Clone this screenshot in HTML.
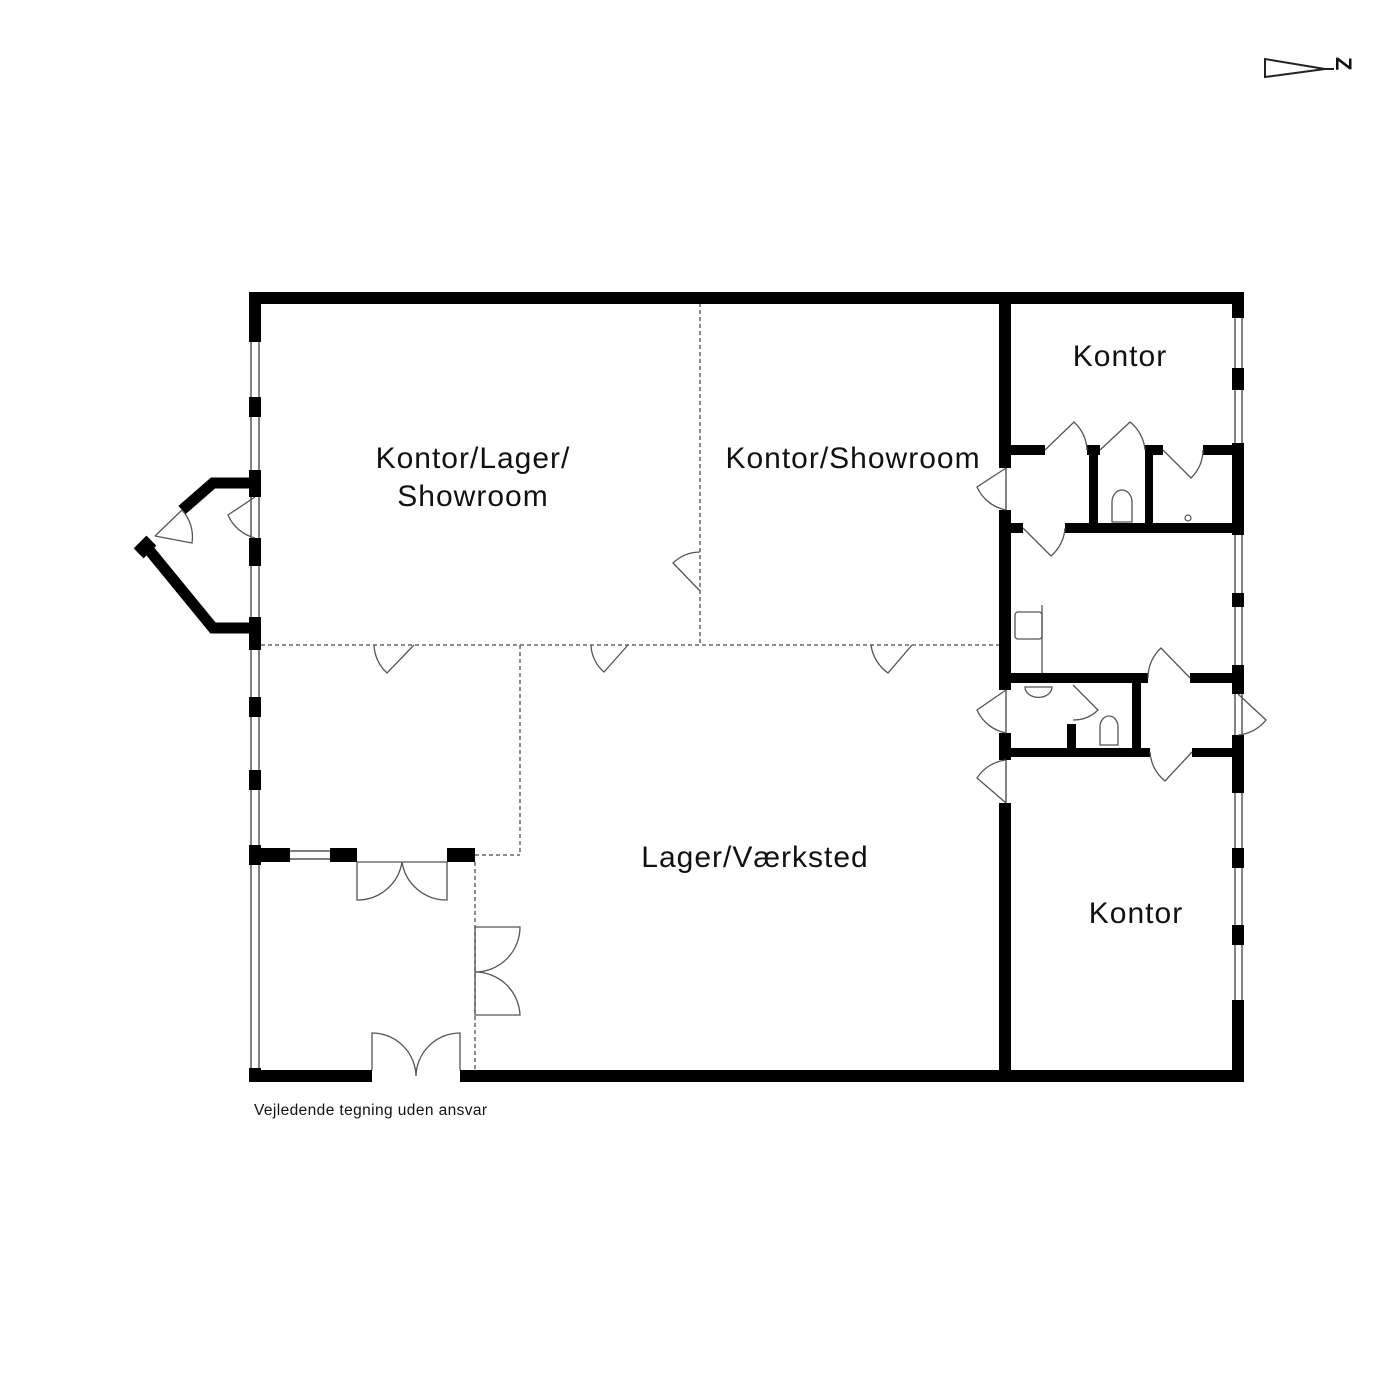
<!DOCTYPE html>
<html><head><meta charset="utf-8"><style>
html,body{margin:0;padding:0;background:#fff;}
svg{display:block;}
text{font-family:"Liberation Sans",Arial,sans-serif;fill:#111;}
</style></head><body>
<svg width="1400" height="1400" viewBox="0 0 1400 1400" xmlns="http://www.w3.org/2000/svg">
<rect width="1400" height="1400" fill="#fff"/>
<path d="M1265,59 L1265,77 L1325,69 Z" fill="none" stroke="#222" stroke-width="2"/>
<line x1="1325" y1="69" x2="1334" y2="69" stroke="#222" stroke-width="2"/>
<text x="1333" y="78" font-size="22" font-weight="bold" transform="rotate(90 1345 69)">Z</text>
<g stroke="#666" stroke-width="1.5" stroke-dasharray="4,3" fill="none">
<line x1="261" y1="645" x2="999" y2="645"/>
<line x1="700" y1="303" x2="700" y2="645"/>
<line x1="520" y1="645" x2="520" y2="855"/>
<line x1="475" y1="855" x2="520" y2="855"/>
<line x1="475" y1="862" x2="475" y2="1070"/>
</g>
<g stroke="#333" stroke-width="1.2" fill="none">
<line x1="251" y1="303" x2="251" y2="1070"/><line x1="259" y1="303" x2="259" y2="1070"/>
<line x1="1235" y1="303" x2="1235" y2="1070"/><line x1="1242" y1="303" x2="1242" y2="1070"/>
<line x1="290" y1="851" x2="330" y2="851"/><line x1="290" y1="859" x2="330" y2="859"/>
<line x1="1006" y1="468" x2="1006" y2="510"/>
<line x1="1006" y1="690" x2="1006" y2="733"/>
<line x1="1006" y1="760" x2="1006" y2="803"/>
</g>
<g fill="#000">
<rect x="249" y="292" width="995" height="12"/>
<rect x="249" y="1070" width="123" height="12"/>
<rect x="460" y="1070" width="784" height="12"/>
<rect x="249" y="292" width="12" height="50"/>
<rect x="249" y="397" width="12" height="20"/>
<rect x="249" y="470" width="12" height="27"/>
<rect x="249" y="538" width="12" height="28"/>
<rect x="249" y="617" width="12" height="33"/>
<rect x="249" y="697" width="12" height="20"/>
<rect x="249" y="770" width="12" height="20"/>
<rect x="249" y="845" width="12" height="20"/>
<rect x="249" y="1068" width="12" height="14"/>
<rect x="1232" y="292" width="12" height="26"/>
<rect x="1232" y="368" width="12" height="22"/>
<rect x="1232" y="443" width="12" height="92"/>
<rect x="1232" y="593" width="12" height="14"/>
<rect x="1232" y="665" width="12" height="29"/>
<rect x="1232" y="735" width="12" height="58"/>
<rect x="1232" y="848" width="12" height="20"/>
<rect x="1232" y="925" width="12" height="20"/>
<rect x="1232" y="1000" width="12" height="82"/>
<rect x="999" y="292" width="12" height="176"/>
<rect x="999" y="510" width="12" height="180"/>
<rect x="999" y="733" width="12" height="27"/>
<rect x="999" y="803" width="12" height="279"/>
<rect x="1011" y="445" width="34" height="10"/>
<rect x="1087" y="445" width="13" height="10"/>
<rect x="1145" y="445" width="18" height="10"/>
<rect x="1203" y="445" width="41" height="10"/>
<rect x="1089" y="445" width="9" height="80"/>
<rect x="1145" y="445" width="8" height="80"/>
<rect x="1011" y="523" width="12" height="10"/>
<rect x="1065" y="523" width="179" height="10"/>
<rect x="1011" y="673" width="137" height="10"/>
<rect x="1190" y="673" width="54" height="10"/>
<rect x="1132" y="673" width="9" height="82"/>
<rect x="1067" y="724" width="9" height="26"/>
<rect x="1011" y="748" width="139" height="9"/>
<rect x="1192" y="748" width="52" height="9"/>
<rect x="249" y="848" width="41" height="14"/>
<rect x="330" y="848" width="27" height="14"/>
<rect x="447" y="848" width="28" height="14"/>
</g>
<polyline points="255,483 213,483 182,510" fill="none" stroke="#000" stroke-width="11"/>
<polyline points="145,545 213,628 255,628" fill="none" stroke="#000" stroke-width="11"/>
<rect x="136" y="540" width="18" height="14" fill="#000" transform="rotate(-45 145 547)"/>
<g fill="none" stroke="#555" stroke-width="1.3">
<path d="M182,510 L155,536 M155,536 L192,543 A40,40 0 0 0 182,510"/>
<path d="M255,497 L228,515 A40,40 0 0 0 255,538"/>
<path d="M414,645 L387,673 A40,40 0 0 1 374,645"/>
<path d="M628,645 L604,672 A37,37 0 0 1 591,645"/>
<path d="M912,645 L888,673 A41,41 0 0 1 871,645"/>
<path d="M700,591 L673,563 A40,40 0 0 1 700,552"/>
<path d="M1006,468 L977,487 A40,40 0 0 0 1006,510"/>
<path d="M1006,690 L977,710 A40,40 0 0 0 1006,733"/>
<path d="M1006,803 L977,778 A40,40 0 0 1 1006,760"/>
<path d="M1045,450 L1074,422 A40,40 0 0 1 1087,450"/>
<path d="M1100,450 L1130,422 A40,40 0 0 1 1145,450"/>
<path d="M1163,450 L1191,478 A40,40 0 0 0 1203,450"/>
<path d="M1023,528 L1051,556 A40,40 0 0 0 1065,528"/>
<path d="M1190,678 L1161,648 A40,40 0 0 0 1148,678"/>
<path d="M1073,685 L1098,710 A35,35 0 0 1 1073,720"/>
<path d="M1238,694 L1266,720 A40,40 0 0 1 1238,735"/>
<path d="M1192,752 L1165,781 A40,40 0 0 1 1150,752"/>
<path d="M357,862 L357,900 A45,45 0 0 0 402,862 A45,45 0 0 0 447,900 L447,862 M357,862 L447,862"/>
<path d="M475,927 L520,927 A45,45 0 0 1 475,972 A45,45 0 0 1 520,1015 L475,1015 L475,927"/>
<path d="M372,1070 L372,1033 A44,44 0 0 1 416,1076 A44,44 0 0 1 460,1033 L460,1070"/>
<path d="M1112,522 L1112,502 A10,12 0 0 1 1132,502 L1132,522 Z"/>
<path d="M1100,745 L1100,727 A9,11 0 0 1 1118,727 L1118,745 Z"/>
<path d="M1025,687 L1052,687 A13,10 0 0 1 1025,687 Z"/>
<rect x="1015" y="612" width="27" height="27" rx="3"/>
<line x1="1042" y1="605" x2="1042" y2="673"/>
</g>
<circle cx="1188" cy="518" r="3" fill="none" stroke="#555" stroke-width="1.2"/>
<g font-size="30" text-anchor="middle" letter-spacing="1">
<text x="473" y="468">Kontor/Lager/</text>
<text x="473" y="506">Showroom</text>
<text x="853" y="468">Kontor/Showroom</text>
<text x="1120" y="366">Kontor</text>
<text x="755" y="867">Lager/Værksted</text>
<text x="1136" y="923">Kontor</text>
</g>
<text x="254" y="1115" font-size="15.5" letter-spacing="0.4">Vejledende tegning uden ansvar</text>
</svg>
</body></html>
